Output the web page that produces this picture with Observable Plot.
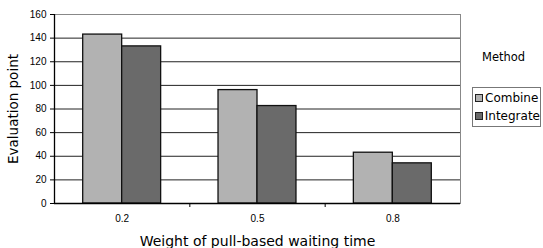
<!DOCTYPE html>
<html><head><meta charset="utf-8">
<script src="https://cdn.jsdelivr.net/npm/d3@7"></script>
<script src="https://cdn.jsdelivr.net/npm/@observablehq/plot@0.6"></script>
<style>
body{margin:0;background:#fff;}
#wrap{position:relative;width:543px;height:248px;overflow:hidden;}
g[aria-label="x-axis label"] text, g[aria-label="y-axis label"] text{font-family:"DejaVu Sans",sans-serif;}
g[aria-label="x-axis label"] text{font-size:14px;}
g[aria-label="y-axis label"] text{font-size:13.5px;}
#method{position:absolute;left:482px;top:50px;font:11.5px "DejaVu Sans",sans-serif;color:#000;}
#legend{position:absolute;left:472px;top:87px;width:69px;height:40px;border:1px solid #777;box-sizing:border-box;background:#fff;padding-top:1px;}
.row{display:flex;align-items:center;height:18px;font:12px "DejaVu Sans",sans-serif;color:#000;}
.sw{width:6px;height:6px;border:1px solid #222;margin:0 2px 0 2px;}
</style></head><body><div id="wrap"></div>
<script>
const categories = ["0.2", "0.5", "0.8"];
const methods = ["Combine", "Integrate"];
const combine = [143, 96, 43];
const integrate = [133, 82.5, 34];
const yTicks = [0, 20, 40, 60, 80, 100, 120, 140, 160];
const colors = ["#b2b2b2", "#6a6a6a"];

const series = [combine, integrate];
const rows = [];
categories.forEach((c, i) => {
  series.forEach((s, j) => rows.push({category: c, idx: i, method: methods[j], j, value: s[i]}));
});
const barW = 0.288;

const plot = Plot.plot({
  width: 543, height: 248,
  marginLeft: 54, marginRight: 83, marginTop: 14, marginBottom: 45,
  style: {fontFamily: "'Liberation Sans', Arial, sans-serif", fontSize: "10px", background: "white", color: "black", overflow: "visible"},
  x: {type: "linear", domain: [0, categories.length]},
  y: {domain: [0, 160]},
  color: {domain: methods, range: colors},
  marks: [
    Plot.gridY(yTicks, {stroke: "#222", strokeOpacity: 1}),
    Plot.frame({stroke: "#888"}),
    Plot.rectY(rows, {
      x1: d => d.idx + 0.5 - (1 - d.j) * barW,
      x2: d => d.idx + 0.5 + d.j * barW,
      y1: 0, y2: "value", fill: "method", stroke: "#111", strokeWidth: 1.3
    }),
    Plot.ruleY([0], {stroke: "#000", strokeWidth: 1.3}),
    Plot.ruleX([0], {stroke: "#000", strokeWidth: 1.3}),
    Plot.axisY(yTicks, {tickSize: 4, tickPadding: 4, label: "Evaluation point", labelAnchor: "center", labelOffset: 46, labelArrow: "none"}),
    Plot.axisX(categories.map((c, i) => i + 0.5), {tickSize: 0, tickPadding: 11, tickFormat: v => categories[Math.floor(v)], label: "Weight of pull\u2010based waiting time", labelAnchor: "center", labelArrow: "none"}),
    Plot.axisX(d3.range(1, categories.length), {tickSize: 4, tickFormat: () => "", label: null})
  ]
});

const wrap = document.getElementById("wrap");
wrap.appendChild(plot);
const m = document.createElement("div");
m.id = "method"; m.textContent = "Method";
wrap.appendChild(m);
const leg = document.createElement("div");
leg.id = "legend";
methods.forEach((name, j) => {
  const r = document.createElement("div"); r.className = "row";
  const s = document.createElement("div"); s.className = "sw"; s.style.background = colors[j];
  const t = document.createElement("span"); t.textContent = name;
  r.appendChild(s); r.appendChild(t); leg.appendChild(r);
});
wrap.appendChild(leg);
</script></body></html>
